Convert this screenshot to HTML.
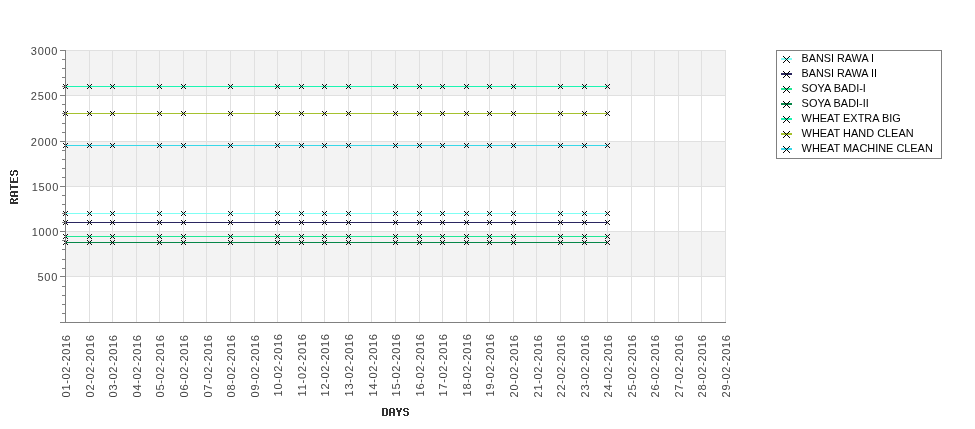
<!DOCTYPE html>
<html><head><meta charset="utf-8"><title>Rates chart</title>
<style>
html,body{margin:0;padding:0;background:#fff;}
body{width:975px;height:429px;overflow:hidden;}
svg{display:block;will-change:transform;}
text{font-family:"Liberation Sans",sans-serif;}
</style></head><body>
<svg width="975" height="429" viewBox="0 0 975 429">
<rect x="0" y="0" width="975" height="429" fill="#ffffff"/>
<g shape-rendering="crispEdges">
<rect x="66" y="50" width="660" height="45" fill="#f3f3f3"/>
<rect x="66" y="141" width="660" height="45" fill="#f3f3f3"/>
<rect x="66" y="231" width="660" height="45" fill="#f3f3f3"/>
<rect x="89" y="50" width="1" height="272" fill="#e0e0e0"/>
<rect x="112" y="50" width="1" height="272" fill="#e0e0e0"/>
<rect x="136" y="50" width="1" height="272" fill="#e0e0e0"/>
<rect x="159" y="50" width="1" height="272" fill="#e0e0e0"/>
<rect x="183" y="50" width="1" height="272" fill="#e0e0e0"/>
<rect x="206" y="50" width="1" height="272" fill="#e0e0e0"/>
<rect x="230" y="50" width="1" height="272" fill="#e0e0e0"/>
<rect x="254" y="50" width="1" height="272" fill="#e0e0e0"/>
<rect x="277" y="50" width="1" height="272" fill="#e0e0e0"/>
<rect x="301" y="50" width="1" height="272" fill="#e0e0e0"/>
<rect x="324" y="50" width="1" height="272" fill="#e0e0e0"/>
<rect x="348" y="50" width="1" height="272" fill="#e0e0e0"/>
<rect x="371" y="50" width="1" height="272" fill="#e0e0e0"/>
<rect x="395" y="50" width="1" height="272" fill="#e0e0e0"/>
<rect x="419" y="50" width="1" height="272" fill="#e0e0e0"/>
<rect x="442" y="50" width="1" height="272" fill="#e0e0e0"/>
<rect x="466" y="50" width="1" height="272" fill="#e0e0e0"/>
<rect x="489" y="50" width="1" height="272" fill="#e0e0e0"/>
<rect x="513" y="50" width="1" height="272" fill="#e0e0e0"/>
<rect x="536" y="50" width="1" height="272" fill="#e0e0e0"/>
<rect x="560" y="50" width="1" height="272" fill="#e0e0e0"/>
<rect x="584" y="50" width="1" height="272" fill="#e0e0e0"/>
<rect x="607" y="50" width="1" height="272" fill="#e0e0e0"/>
<rect x="631" y="50" width="1" height="272" fill="#e0e0e0"/>
<rect x="654" y="50" width="1" height="272" fill="#e0e0e0"/>
<rect x="678" y="50" width="1" height="272" fill="#e0e0e0"/>
<rect x="701" y="50" width="1" height="272" fill="#e0e0e0"/>
<rect x="725" y="50" width="1" height="272" fill="#e0e0e0"/>
<rect x="66" y="50" width="660" height="1" fill="#e0e0e0"/>
<rect x="66" y="95" width="660" height="1" fill="#e0e0e0"/>
<rect x="66" y="141" width="660" height="1" fill="#e0e0e0"/>
<rect x="66" y="186" width="660" height="1" fill="#e0e0e0"/>
<rect x="66" y="231" width="660" height="1" fill="#e0e0e0"/>
<rect x="66" y="276" width="660" height="1" fill="#e0e0e0"/>
</g>
<g shape-rendering="crispEdges">
<rect x="65" y="213" width="543" height="1" fill="#7ffff4"/>
<rect x="65" y="222" width="543" height="1" fill="#2a2660"/>
<rect x="65" y="236" width="543" height="1" fill="#22e896"/>
<rect x="65" y="242" width="543" height="1" fill="#068648"/>
<rect x="65" y="86" width="543" height="1" fill="#1cf5b2"/>
<rect x="65" y="113" width="543" height="1" fill="#a5c12e"/>
<rect x="65" y="145" width="543" height="1" fill="#38d8e8"/>
</g>
<g fill="#000" shape-rendering="crispEdges">
<path d="M63 211h1v1h-1zM63 215h1v1h-1zM64 212h1v1h-1zM64 214h1v1h-1zM65 213h1v1h-1zM66 212h1v1h-1zM66 214h1v1h-1zM67 211h1v1h-1zM67 215h1v1h-1z" fill-opacity="0.95"/>
<path d="M87 211h1v1h-1zM87 215h1v1h-1zM88 212h1v1h-1zM88 214h1v1h-1zM89 213h1v1h-1zM90 212h1v1h-1zM90 214h1v1h-1zM91 211h1v1h-1zM91 215h1v1h-1z" fill-opacity="0.95"/>
<path d="M110 211h1v1h-1zM110 215h1v1h-1zM111 212h1v1h-1zM111 214h1v1h-1zM112 213h1v1h-1zM113 212h1v1h-1zM113 214h1v1h-1zM114 211h1v1h-1zM114 215h1v1h-1z" fill-opacity="0.95"/>
<path d="M157 211h1v1h-1zM157 215h1v1h-1zM158 212h1v1h-1zM158 214h1v1h-1zM159 213h1v1h-1zM160 212h1v1h-1zM160 214h1v1h-1zM161 211h1v1h-1zM161 215h1v1h-1z" fill-opacity="0.95"/>
<path d="M181 211h1v1h-1zM181 215h1v1h-1zM182 212h1v1h-1zM182 214h1v1h-1zM183 213h1v1h-1zM184 212h1v1h-1zM184 214h1v1h-1zM185 211h1v1h-1zM185 215h1v1h-1z" fill-opacity="0.95"/>
<path d="M228 211h1v1h-1zM228 215h1v1h-1zM229 212h1v1h-1zM229 214h1v1h-1zM230 213h1v1h-1zM231 212h1v1h-1zM231 214h1v1h-1zM232 211h1v1h-1zM232 215h1v1h-1z" fill-opacity="0.95"/>
<path d="M275 211h1v1h-1zM275 215h1v1h-1zM276 212h1v1h-1zM276 214h1v1h-1zM277 213h1v1h-1zM278 212h1v1h-1zM278 214h1v1h-1zM279 211h1v1h-1zM279 215h1v1h-1z" fill-opacity="0.95"/>
<path d="M299 211h1v1h-1zM299 215h1v1h-1zM300 212h1v1h-1zM300 214h1v1h-1zM301 213h1v1h-1zM302 212h1v1h-1zM302 214h1v1h-1zM303 211h1v1h-1zM303 215h1v1h-1z" fill-opacity="0.95"/>
<path d="M322 211h1v1h-1zM322 215h1v1h-1zM323 212h1v1h-1zM323 214h1v1h-1zM324 213h1v1h-1zM325 212h1v1h-1zM325 214h1v1h-1zM326 211h1v1h-1zM326 215h1v1h-1z" fill-opacity="0.95"/>
<path d="M346 211h1v1h-1zM346 215h1v1h-1zM347 212h1v1h-1zM347 214h1v1h-1zM348 213h1v1h-1zM349 212h1v1h-1zM349 214h1v1h-1zM350 211h1v1h-1zM350 215h1v1h-1z" fill-opacity="0.95"/>
<path d="M393 211h1v1h-1zM393 215h1v1h-1zM394 212h1v1h-1zM394 214h1v1h-1zM395 213h1v1h-1zM396 212h1v1h-1zM396 214h1v1h-1zM397 211h1v1h-1zM397 215h1v1h-1z" fill-opacity="0.95"/>
<path d="M417 211h1v1h-1zM417 215h1v1h-1zM418 212h1v1h-1zM418 214h1v1h-1zM419 213h1v1h-1zM420 212h1v1h-1zM420 214h1v1h-1zM421 211h1v1h-1zM421 215h1v1h-1z" fill-opacity="0.95"/>
<path d="M440 211h1v1h-1zM440 215h1v1h-1zM441 212h1v1h-1zM441 214h1v1h-1zM442 213h1v1h-1zM443 212h1v1h-1zM443 214h1v1h-1zM444 211h1v1h-1zM444 215h1v1h-1z" fill-opacity="0.95"/>
<path d="M464 211h1v1h-1zM464 215h1v1h-1zM465 212h1v1h-1zM465 214h1v1h-1zM466 213h1v1h-1zM467 212h1v1h-1zM467 214h1v1h-1zM468 211h1v1h-1zM468 215h1v1h-1z" fill-opacity="0.95"/>
<path d="M487 211h1v1h-1zM487 215h1v1h-1zM488 212h1v1h-1zM488 214h1v1h-1zM489 213h1v1h-1zM490 212h1v1h-1zM490 214h1v1h-1zM491 211h1v1h-1zM491 215h1v1h-1z" fill-opacity="0.95"/>
<path d="M511 211h1v1h-1zM511 215h1v1h-1zM512 212h1v1h-1zM512 214h1v1h-1zM513 213h1v1h-1zM514 212h1v1h-1zM514 214h1v1h-1zM515 211h1v1h-1zM515 215h1v1h-1z" fill-opacity="0.95"/>
<path d="M558 211h1v1h-1zM558 215h1v1h-1zM559 212h1v1h-1zM559 214h1v1h-1zM560 213h1v1h-1zM561 212h1v1h-1zM561 214h1v1h-1zM562 211h1v1h-1zM562 215h1v1h-1z" fill-opacity="0.95"/>
<path d="M582 211h1v1h-1zM582 215h1v1h-1zM583 212h1v1h-1zM583 214h1v1h-1zM584 213h1v1h-1zM585 212h1v1h-1zM585 214h1v1h-1zM586 211h1v1h-1zM586 215h1v1h-1z" fill-opacity="0.95"/>
<path d="M605 211h1v1h-1zM605 215h1v1h-1zM606 212h1v1h-1zM606 214h1v1h-1zM607 213h1v1h-1zM608 212h1v1h-1zM608 214h1v1h-1zM609 211h1v1h-1zM609 215h1v1h-1z" fill-opacity="0.95"/>
<path d="M63 220h1v1h-1zM63 224h1v1h-1zM64 221h1v1h-1zM64 223h1v1h-1zM65 222h1v1h-1zM66 221h1v1h-1zM66 223h1v1h-1zM67 220h1v1h-1zM67 224h1v1h-1z" fill-opacity="0.95"/>
<path d="M87 220h1v1h-1zM87 224h1v1h-1zM88 221h1v1h-1zM88 223h1v1h-1zM89 222h1v1h-1zM90 221h1v1h-1zM90 223h1v1h-1zM91 220h1v1h-1zM91 224h1v1h-1z" fill-opacity="0.95"/>
<path d="M110 220h1v1h-1zM110 224h1v1h-1zM111 221h1v1h-1zM111 223h1v1h-1zM112 222h1v1h-1zM113 221h1v1h-1zM113 223h1v1h-1zM114 220h1v1h-1zM114 224h1v1h-1z" fill-opacity="0.95"/>
<path d="M157 220h1v1h-1zM157 224h1v1h-1zM158 221h1v1h-1zM158 223h1v1h-1zM159 222h1v1h-1zM160 221h1v1h-1zM160 223h1v1h-1zM161 220h1v1h-1zM161 224h1v1h-1z" fill-opacity="0.95"/>
<path d="M181 220h1v1h-1zM181 224h1v1h-1zM182 221h1v1h-1zM182 223h1v1h-1zM183 222h1v1h-1zM184 221h1v1h-1zM184 223h1v1h-1zM185 220h1v1h-1zM185 224h1v1h-1z" fill-opacity="0.95"/>
<path d="M228 220h1v1h-1zM228 224h1v1h-1zM229 221h1v1h-1zM229 223h1v1h-1zM230 222h1v1h-1zM231 221h1v1h-1zM231 223h1v1h-1zM232 220h1v1h-1zM232 224h1v1h-1z" fill-opacity="0.95"/>
<path d="M275 220h1v1h-1zM275 224h1v1h-1zM276 221h1v1h-1zM276 223h1v1h-1zM277 222h1v1h-1zM278 221h1v1h-1zM278 223h1v1h-1zM279 220h1v1h-1zM279 224h1v1h-1z" fill-opacity="0.95"/>
<path d="M299 220h1v1h-1zM299 224h1v1h-1zM300 221h1v1h-1zM300 223h1v1h-1zM301 222h1v1h-1zM302 221h1v1h-1zM302 223h1v1h-1zM303 220h1v1h-1zM303 224h1v1h-1z" fill-opacity="0.95"/>
<path d="M322 220h1v1h-1zM322 224h1v1h-1zM323 221h1v1h-1zM323 223h1v1h-1zM324 222h1v1h-1zM325 221h1v1h-1zM325 223h1v1h-1zM326 220h1v1h-1zM326 224h1v1h-1z" fill-opacity="0.95"/>
<path d="M346 220h1v1h-1zM346 224h1v1h-1zM347 221h1v1h-1zM347 223h1v1h-1zM348 222h1v1h-1zM349 221h1v1h-1zM349 223h1v1h-1zM350 220h1v1h-1zM350 224h1v1h-1z" fill-opacity="0.95"/>
<path d="M393 220h1v1h-1zM393 224h1v1h-1zM394 221h1v1h-1zM394 223h1v1h-1zM395 222h1v1h-1zM396 221h1v1h-1zM396 223h1v1h-1zM397 220h1v1h-1zM397 224h1v1h-1z" fill-opacity="0.95"/>
<path d="M417 220h1v1h-1zM417 224h1v1h-1zM418 221h1v1h-1zM418 223h1v1h-1zM419 222h1v1h-1zM420 221h1v1h-1zM420 223h1v1h-1zM421 220h1v1h-1zM421 224h1v1h-1z" fill-opacity="0.95"/>
<path d="M440 220h1v1h-1zM440 224h1v1h-1zM441 221h1v1h-1zM441 223h1v1h-1zM442 222h1v1h-1zM443 221h1v1h-1zM443 223h1v1h-1zM444 220h1v1h-1zM444 224h1v1h-1z" fill-opacity="0.95"/>
<path d="M464 220h1v1h-1zM464 224h1v1h-1zM465 221h1v1h-1zM465 223h1v1h-1zM466 222h1v1h-1zM467 221h1v1h-1zM467 223h1v1h-1zM468 220h1v1h-1zM468 224h1v1h-1z" fill-opacity="0.95"/>
<path d="M487 220h1v1h-1zM487 224h1v1h-1zM488 221h1v1h-1zM488 223h1v1h-1zM489 222h1v1h-1zM490 221h1v1h-1zM490 223h1v1h-1zM491 220h1v1h-1zM491 224h1v1h-1z" fill-opacity="0.95"/>
<path d="M511 220h1v1h-1zM511 224h1v1h-1zM512 221h1v1h-1zM512 223h1v1h-1zM513 222h1v1h-1zM514 221h1v1h-1zM514 223h1v1h-1zM515 220h1v1h-1zM515 224h1v1h-1z" fill-opacity="0.95"/>
<path d="M558 220h1v1h-1zM558 224h1v1h-1zM559 221h1v1h-1zM559 223h1v1h-1zM560 222h1v1h-1zM561 221h1v1h-1zM561 223h1v1h-1zM562 220h1v1h-1zM562 224h1v1h-1z" fill-opacity="0.95"/>
<path d="M582 220h1v1h-1zM582 224h1v1h-1zM583 221h1v1h-1zM583 223h1v1h-1zM584 222h1v1h-1zM585 221h1v1h-1zM585 223h1v1h-1zM586 220h1v1h-1zM586 224h1v1h-1z" fill-opacity="0.95"/>
<path d="M605 220h1v1h-1zM605 224h1v1h-1zM606 221h1v1h-1zM606 223h1v1h-1zM607 222h1v1h-1zM608 221h1v1h-1zM608 223h1v1h-1zM609 220h1v1h-1zM609 224h1v1h-1z" fill-opacity="0.95"/>
<path d="M63 234h1v1h-1zM63 238h1v1h-1zM64 235h1v1h-1zM64 237h1v1h-1zM65 236h1v1h-1zM66 235h1v1h-1zM66 237h1v1h-1zM67 234h1v1h-1zM67 238h1v1h-1z" fill-opacity="0.95"/>
<path d="M87 234h1v1h-1zM87 238h1v1h-1zM88 235h1v1h-1zM88 237h1v1h-1zM89 236h1v1h-1zM90 235h1v1h-1zM90 237h1v1h-1zM91 234h1v1h-1zM91 238h1v1h-1z" fill-opacity="0.95"/>
<path d="M110 234h1v1h-1zM110 238h1v1h-1zM111 235h1v1h-1zM111 237h1v1h-1zM112 236h1v1h-1zM113 235h1v1h-1zM113 237h1v1h-1zM114 234h1v1h-1zM114 238h1v1h-1z" fill-opacity="0.95"/>
<path d="M157 234h1v1h-1zM157 238h1v1h-1zM158 235h1v1h-1zM158 237h1v1h-1zM159 236h1v1h-1zM160 235h1v1h-1zM160 237h1v1h-1zM161 234h1v1h-1zM161 238h1v1h-1z" fill-opacity="0.95"/>
<path d="M181 234h1v1h-1zM181 238h1v1h-1zM182 235h1v1h-1zM182 237h1v1h-1zM183 236h1v1h-1zM184 235h1v1h-1zM184 237h1v1h-1zM185 234h1v1h-1zM185 238h1v1h-1z" fill-opacity="0.95"/>
<path d="M228 234h1v1h-1zM228 238h1v1h-1zM229 235h1v1h-1zM229 237h1v1h-1zM230 236h1v1h-1zM231 235h1v1h-1zM231 237h1v1h-1zM232 234h1v1h-1zM232 238h1v1h-1z" fill-opacity="0.95"/>
<path d="M275 234h1v1h-1zM275 238h1v1h-1zM276 235h1v1h-1zM276 237h1v1h-1zM277 236h1v1h-1zM278 235h1v1h-1zM278 237h1v1h-1zM279 234h1v1h-1zM279 238h1v1h-1z" fill-opacity="0.95"/>
<path d="M299 234h1v1h-1zM299 238h1v1h-1zM300 235h1v1h-1zM300 237h1v1h-1zM301 236h1v1h-1zM302 235h1v1h-1zM302 237h1v1h-1zM303 234h1v1h-1zM303 238h1v1h-1z" fill-opacity="0.95"/>
<path d="M322 234h1v1h-1zM322 238h1v1h-1zM323 235h1v1h-1zM323 237h1v1h-1zM324 236h1v1h-1zM325 235h1v1h-1zM325 237h1v1h-1zM326 234h1v1h-1zM326 238h1v1h-1z" fill-opacity="0.95"/>
<path d="M346 234h1v1h-1zM346 238h1v1h-1zM347 235h1v1h-1zM347 237h1v1h-1zM348 236h1v1h-1zM349 235h1v1h-1zM349 237h1v1h-1zM350 234h1v1h-1zM350 238h1v1h-1z" fill-opacity="0.95"/>
<path d="M393 234h1v1h-1zM393 238h1v1h-1zM394 235h1v1h-1zM394 237h1v1h-1zM395 236h1v1h-1zM396 235h1v1h-1zM396 237h1v1h-1zM397 234h1v1h-1zM397 238h1v1h-1z" fill-opacity="0.95"/>
<path d="M417 234h1v1h-1zM417 238h1v1h-1zM418 235h1v1h-1zM418 237h1v1h-1zM419 236h1v1h-1zM420 235h1v1h-1zM420 237h1v1h-1zM421 234h1v1h-1zM421 238h1v1h-1z" fill-opacity="0.95"/>
<path d="M440 234h1v1h-1zM440 238h1v1h-1zM441 235h1v1h-1zM441 237h1v1h-1zM442 236h1v1h-1zM443 235h1v1h-1zM443 237h1v1h-1zM444 234h1v1h-1zM444 238h1v1h-1z" fill-opacity="0.95"/>
<path d="M464 234h1v1h-1zM464 238h1v1h-1zM465 235h1v1h-1zM465 237h1v1h-1zM466 236h1v1h-1zM467 235h1v1h-1zM467 237h1v1h-1zM468 234h1v1h-1zM468 238h1v1h-1z" fill-opacity="0.95"/>
<path d="M487 234h1v1h-1zM487 238h1v1h-1zM488 235h1v1h-1zM488 237h1v1h-1zM489 236h1v1h-1zM490 235h1v1h-1zM490 237h1v1h-1zM491 234h1v1h-1zM491 238h1v1h-1z" fill-opacity="0.95"/>
<path d="M511 234h1v1h-1zM511 238h1v1h-1zM512 235h1v1h-1zM512 237h1v1h-1zM513 236h1v1h-1zM514 235h1v1h-1zM514 237h1v1h-1zM515 234h1v1h-1zM515 238h1v1h-1z" fill-opacity="0.95"/>
<path d="M558 234h1v1h-1zM558 238h1v1h-1zM559 235h1v1h-1zM559 237h1v1h-1zM560 236h1v1h-1zM561 235h1v1h-1zM561 237h1v1h-1zM562 234h1v1h-1zM562 238h1v1h-1z" fill-opacity="0.95"/>
<path d="M582 234h1v1h-1zM582 238h1v1h-1zM583 235h1v1h-1zM583 237h1v1h-1zM584 236h1v1h-1zM585 235h1v1h-1zM585 237h1v1h-1zM586 234h1v1h-1zM586 238h1v1h-1z" fill-opacity="0.95"/>
<path d="M605 234h1v1h-1zM605 238h1v1h-1zM606 235h1v1h-1zM606 237h1v1h-1zM607 236h1v1h-1zM608 235h1v1h-1zM608 237h1v1h-1zM609 234h1v1h-1zM609 238h1v1h-1z" fill-opacity="0.95"/>
<path d="M63 240h1v1h-1zM63 244h1v1h-1zM64 241h1v1h-1zM64 243h1v1h-1zM65 242h1v1h-1zM66 241h1v1h-1zM66 243h1v1h-1zM67 240h1v1h-1zM67 244h1v1h-1z" fill-opacity="0.95"/>
<path d="M87 240h1v1h-1zM87 244h1v1h-1zM88 241h1v1h-1zM88 243h1v1h-1zM89 242h1v1h-1zM90 241h1v1h-1zM90 243h1v1h-1zM91 240h1v1h-1zM91 244h1v1h-1z" fill-opacity="0.95"/>
<path d="M110 240h1v1h-1zM110 244h1v1h-1zM111 241h1v1h-1zM111 243h1v1h-1zM112 242h1v1h-1zM113 241h1v1h-1zM113 243h1v1h-1zM114 240h1v1h-1zM114 244h1v1h-1z" fill-opacity="0.95"/>
<path d="M157 240h1v1h-1zM157 244h1v1h-1zM158 241h1v1h-1zM158 243h1v1h-1zM159 242h1v1h-1zM160 241h1v1h-1zM160 243h1v1h-1zM161 240h1v1h-1zM161 244h1v1h-1z" fill-opacity="0.95"/>
<path d="M181 240h1v1h-1zM181 244h1v1h-1zM182 241h1v1h-1zM182 243h1v1h-1zM183 242h1v1h-1zM184 241h1v1h-1zM184 243h1v1h-1zM185 240h1v1h-1zM185 244h1v1h-1z" fill-opacity="0.95"/>
<path d="M228 240h1v1h-1zM228 244h1v1h-1zM229 241h1v1h-1zM229 243h1v1h-1zM230 242h1v1h-1zM231 241h1v1h-1zM231 243h1v1h-1zM232 240h1v1h-1zM232 244h1v1h-1z" fill-opacity="0.95"/>
<path d="M275 240h1v1h-1zM275 244h1v1h-1zM276 241h1v1h-1zM276 243h1v1h-1zM277 242h1v1h-1zM278 241h1v1h-1zM278 243h1v1h-1zM279 240h1v1h-1zM279 244h1v1h-1z" fill-opacity="0.95"/>
<path d="M299 240h1v1h-1zM299 244h1v1h-1zM300 241h1v1h-1zM300 243h1v1h-1zM301 242h1v1h-1zM302 241h1v1h-1zM302 243h1v1h-1zM303 240h1v1h-1zM303 244h1v1h-1z" fill-opacity="0.95"/>
<path d="M322 240h1v1h-1zM322 244h1v1h-1zM323 241h1v1h-1zM323 243h1v1h-1zM324 242h1v1h-1zM325 241h1v1h-1zM325 243h1v1h-1zM326 240h1v1h-1zM326 244h1v1h-1z" fill-opacity="0.95"/>
<path d="M346 240h1v1h-1zM346 244h1v1h-1zM347 241h1v1h-1zM347 243h1v1h-1zM348 242h1v1h-1zM349 241h1v1h-1zM349 243h1v1h-1zM350 240h1v1h-1zM350 244h1v1h-1z" fill-opacity="0.95"/>
<path d="M393 240h1v1h-1zM393 244h1v1h-1zM394 241h1v1h-1zM394 243h1v1h-1zM395 242h1v1h-1zM396 241h1v1h-1zM396 243h1v1h-1zM397 240h1v1h-1zM397 244h1v1h-1z" fill-opacity="0.95"/>
<path d="M417 240h1v1h-1zM417 244h1v1h-1zM418 241h1v1h-1zM418 243h1v1h-1zM419 242h1v1h-1zM420 241h1v1h-1zM420 243h1v1h-1zM421 240h1v1h-1zM421 244h1v1h-1z" fill-opacity="0.95"/>
<path d="M440 240h1v1h-1zM440 244h1v1h-1zM441 241h1v1h-1zM441 243h1v1h-1zM442 242h1v1h-1zM443 241h1v1h-1zM443 243h1v1h-1zM444 240h1v1h-1zM444 244h1v1h-1z" fill-opacity="0.95"/>
<path d="M464 240h1v1h-1zM464 244h1v1h-1zM465 241h1v1h-1zM465 243h1v1h-1zM466 242h1v1h-1zM467 241h1v1h-1zM467 243h1v1h-1zM468 240h1v1h-1zM468 244h1v1h-1z" fill-opacity="0.95"/>
<path d="M487 240h1v1h-1zM487 244h1v1h-1zM488 241h1v1h-1zM488 243h1v1h-1zM489 242h1v1h-1zM490 241h1v1h-1zM490 243h1v1h-1zM491 240h1v1h-1zM491 244h1v1h-1z" fill-opacity="0.95"/>
<path d="M511 240h1v1h-1zM511 244h1v1h-1zM512 241h1v1h-1zM512 243h1v1h-1zM513 242h1v1h-1zM514 241h1v1h-1zM514 243h1v1h-1zM515 240h1v1h-1zM515 244h1v1h-1z" fill-opacity="0.95"/>
<path d="M558 240h1v1h-1zM558 244h1v1h-1zM559 241h1v1h-1zM559 243h1v1h-1zM560 242h1v1h-1zM561 241h1v1h-1zM561 243h1v1h-1zM562 240h1v1h-1zM562 244h1v1h-1z" fill-opacity="0.95"/>
<path d="M582 240h1v1h-1zM582 244h1v1h-1zM583 241h1v1h-1zM583 243h1v1h-1zM584 242h1v1h-1zM585 241h1v1h-1zM585 243h1v1h-1zM586 240h1v1h-1zM586 244h1v1h-1z" fill-opacity="0.95"/>
<path d="M605 240h1v1h-1zM605 244h1v1h-1zM606 241h1v1h-1zM606 243h1v1h-1zM607 242h1v1h-1zM608 241h1v1h-1zM608 243h1v1h-1zM609 240h1v1h-1zM609 244h1v1h-1z" fill-opacity="0.95"/>
<path d="M63 84h1v1h-1zM63 88h1v1h-1zM64 85h1v1h-1zM64 87h1v1h-1zM65 86h1v1h-1zM66 85h1v1h-1zM66 87h1v1h-1zM67 84h1v1h-1zM67 88h1v1h-1z" fill-opacity="0.95"/>
<path d="M87 84h1v1h-1zM87 88h1v1h-1zM88 85h1v1h-1zM88 87h1v1h-1zM89 86h1v1h-1zM90 85h1v1h-1zM90 87h1v1h-1zM91 84h1v1h-1zM91 88h1v1h-1z" fill-opacity="0.95"/>
<path d="M110 84h1v1h-1zM110 88h1v1h-1zM111 85h1v1h-1zM111 87h1v1h-1zM112 86h1v1h-1zM113 85h1v1h-1zM113 87h1v1h-1zM114 84h1v1h-1zM114 88h1v1h-1z" fill-opacity="0.95"/>
<path d="M157 84h1v1h-1zM157 88h1v1h-1zM158 85h1v1h-1zM158 87h1v1h-1zM159 86h1v1h-1zM160 85h1v1h-1zM160 87h1v1h-1zM161 84h1v1h-1zM161 88h1v1h-1z" fill-opacity="0.95"/>
<path d="M181 84h1v1h-1zM181 88h1v1h-1zM182 85h1v1h-1zM182 87h1v1h-1zM183 86h1v1h-1zM184 85h1v1h-1zM184 87h1v1h-1zM185 84h1v1h-1zM185 88h1v1h-1z" fill-opacity="0.95"/>
<path d="M228 84h1v1h-1zM228 88h1v1h-1zM229 85h1v1h-1zM229 87h1v1h-1zM230 86h1v1h-1zM231 85h1v1h-1zM231 87h1v1h-1zM232 84h1v1h-1zM232 88h1v1h-1z" fill-opacity="0.95"/>
<path d="M275 84h1v1h-1zM275 88h1v1h-1zM276 85h1v1h-1zM276 87h1v1h-1zM277 86h1v1h-1zM278 85h1v1h-1zM278 87h1v1h-1zM279 84h1v1h-1zM279 88h1v1h-1z" fill-opacity="0.95"/>
<path d="M299 84h1v1h-1zM299 88h1v1h-1zM300 85h1v1h-1zM300 87h1v1h-1zM301 86h1v1h-1zM302 85h1v1h-1zM302 87h1v1h-1zM303 84h1v1h-1zM303 88h1v1h-1z" fill-opacity="0.95"/>
<path d="M322 84h1v1h-1zM322 88h1v1h-1zM323 85h1v1h-1zM323 87h1v1h-1zM324 86h1v1h-1zM325 85h1v1h-1zM325 87h1v1h-1zM326 84h1v1h-1zM326 88h1v1h-1z" fill-opacity="0.95"/>
<path d="M346 84h1v1h-1zM346 88h1v1h-1zM347 85h1v1h-1zM347 87h1v1h-1zM348 86h1v1h-1zM349 85h1v1h-1zM349 87h1v1h-1zM350 84h1v1h-1zM350 88h1v1h-1z" fill-opacity="0.95"/>
<path d="M393 84h1v1h-1zM393 88h1v1h-1zM394 85h1v1h-1zM394 87h1v1h-1zM395 86h1v1h-1zM396 85h1v1h-1zM396 87h1v1h-1zM397 84h1v1h-1zM397 88h1v1h-1z" fill-opacity="0.95"/>
<path d="M417 84h1v1h-1zM417 88h1v1h-1zM418 85h1v1h-1zM418 87h1v1h-1zM419 86h1v1h-1zM420 85h1v1h-1zM420 87h1v1h-1zM421 84h1v1h-1zM421 88h1v1h-1z" fill-opacity="0.95"/>
<path d="M440 84h1v1h-1zM440 88h1v1h-1zM441 85h1v1h-1zM441 87h1v1h-1zM442 86h1v1h-1zM443 85h1v1h-1zM443 87h1v1h-1zM444 84h1v1h-1zM444 88h1v1h-1z" fill-opacity="0.95"/>
<path d="M464 84h1v1h-1zM464 88h1v1h-1zM465 85h1v1h-1zM465 87h1v1h-1zM466 86h1v1h-1zM467 85h1v1h-1zM467 87h1v1h-1zM468 84h1v1h-1zM468 88h1v1h-1z" fill-opacity="0.95"/>
<path d="M487 84h1v1h-1zM487 88h1v1h-1zM488 85h1v1h-1zM488 87h1v1h-1zM489 86h1v1h-1zM490 85h1v1h-1zM490 87h1v1h-1zM491 84h1v1h-1zM491 88h1v1h-1z" fill-opacity="0.95"/>
<path d="M511 84h1v1h-1zM511 88h1v1h-1zM512 85h1v1h-1zM512 87h1v1h-1zM513 86h1v1h-1zM514 85h1v1h-1zM514 87h1v1h-1zM515 84h1v1h-1zM515 88h1v1h-1z" fill-opacity="0.95"/>
<path d="M558 84h1v1h-1zM558 88h1v1h-1zM559 85h1v1h-1zM559 87h1v1h-1zM560 86h1v1h-1zM561 85h1v1h-1zM561 87h1v1h-1zM562 84h1v1h-1zM562 88h1v1h-1z" fill-opacity="0.95"/>
<path d="M582 84h1v1h-1zM582 88h1v1h-1zM583 85h1v1h-1zM583 87h1v1h-1zM584 86h1v1h-1zM585 85h1v1h-1zM585 87h1v1h-1zM586 84h1v1h-1zM586 88h1v1h-1z" fill-opacity="0.95"/>
<path d="M605 84h1v1h-1zM605 88h1v1h-1zM606 85h1v1h-1zM606 87h1v1h-1zM607 86h1v1h-1zM608 85h1v1h-1zM608 87h1v1h-1zM609 84h1v1h-1zM609 88h1v1h-1z" fill-opacity="0.95"/>
<path d="M63 111h1v1h-1zM63 115h1v1h-1zM64 112h1v1h-1zM64 114h1v1h-1zM65 113h1v1h-1zM66 112h1v1h-1zM66 114h1v1h-1zM67 111h1v1h-1zM67 115h1v1h-1z" fill-opacity="0.95"/>
<path d="M87 111h1v1h-1zM87 115h1v1h-1zM88 112h1v1h-1zM88 114h1v1h-1zM89 113h1v1h-1zM90 112h1v1h-1zM90 114h1v1h-1zM91 111h1v1h-1zM91 115h1v1h-1z" fill-opacity="0.95"/>
<path d="M110 111h1v1h-1zM110 115h1v1h-1zM111 112h1v1h-1zM111 114h1v1h-1zM112 113h1v1h-1zM113 112h1v1h-1zM113 114h1v1h-1zM114 111h1v1h-1zM114 115h1v1h-1z" fill-opacity="0.95"/>
<path d="M157 111h1v1h-1zM157 115h1v1h-1zM158 112h1v1h-1zM158 114h1v1h-1zM159 113h1v1h-1zM160 112h1v1h-1zM160 114h1v1h-1zM161 111h1v1h-1zM161 115h1v1h-1z" fill-opacity="0.95"/>
<path d="M181 111h1v1h-1zM181 115h1v1h-1zM182 112h1v1h-1zM182 114h1v1h-1zM183 113h1v1h-1zM184 112h1v1h-1zM184 114h1v1h-1zM185 111h1v1h-1zM185 115h1v1h-1z" fill-opacity="0.95"/>
<path d="M228 111h1v1h-1zM228 115h1v1h-1zM229 112h1v1h-1zM229 114h1v1h-1zM230 113h1v1h-1zM231 112h1v1h-1zM231 114h1v1h-1zM232 111h1v1h-1zM232 115h1v1h-1z" fill-opacity="0.95"/>
<path d="M275 111h1v1h-1zM275 115h1v1h-1zM276 112h1v1h-1zM276 114h1v1h-1zM277 113h1v1h-1zM278 112h1v1h-1zM278 114h1v1h-1zM279 111h1v1h-1zM279 115h1v1h-1z" fill-opacity="0.95"/>
<path d="M299 111h1v1h-1zM299 115h1v1h-1zM300 112h1v1h-1zM300 114h1v1h-1zM301 113h1v1h-1zM302 112h1v1h-1zM302 114h1v1h-1zM303 111h1v1h-1zM303 115h1v1h-1z" fill-opacity="0.95"/>
<path d="M322 111h1v1h-1zM322 115h1v1h-1zM323 112h1v1h-1zM323 114h1v1h-1zM324 113h1v1h-1zM325 112h1v1h-1zM325 114h1v1h-1zM326 111h1v1h-1zM326 115h1v1h-1z" fill-opacity="0.95"/>
<path d="M346 111h1v1h-1zM346 115h1v1h-1zM347 112h1v1h-1zM347 114h1v1h-1zM348 113h1v1h-1zM349 112h1v1h-1zM349 114h1v1h-1zM350 111h1v1h-1zM350 115h1v1h-1z" fill-opacity="0.95"/>
<path d="M393 111h1v1h-1zM393 115h1v1h-1zM394 112h1v1h-1zM394 114h1v1h-1zM395 113h1v1h-1zM396 112h1v1h-1zM396 114h1v1h-1zM397 111h1v1h-1zM397 115h1v1h-1z" fill-opacity="0.95"/>
<path d="M417 111h1v1h-1zM417 115h1v1h-1zM418 112h1v1h-1zM418 114h1v1h-1zM419 113h1v1h-1zM420 112h1v1h-1zM420 114h1v1h-1zM421 111h1v1h-1zM421 115h1v1h-1z" fill-opacity="0.95"/>
<path d="M440 111h1v1h-1zM440 115h1v1h-1zM441 112h1v1h-1zM441 114h1v1h-1zM442 113h1v1h-1zM443 112h1v1h-1zM443 114h1v1h-1zM444 111h1v1h-1zM444 115h1v1h-1z" fill-opacity="0.95"/>
<path d="M464 111h1v1h-1zM464 115h1v1h-1zM465 112h1v1h-1zM465 114h1v1h-1zM466 113h1v1h-1zM467 112h1v1h-1zM467 114h1v1h-1zM468 111h1v1h-1zM468 115h1v1h-1z" fill-opacity="0.95"/>
<path d="M487 111h1v1h-1zM487 115h1v1h-1zM488 112h1v1h-1zM488 114h1v1h-1zM489 113h1v1h-1zM490 112h1v1h-1zM490 114h1v1h-1zM491 111h1v1h-1zM491 115h1v1h-1z" fill-opacity="0.95"/>
<path d="M511 111h1v1h-1zM511 115h1v1h-1zM512 112h1v1h-1zM512 114h1v1h-1zM513 113h1v1h-1zM514 112h1v1h-1zM514 114h1v1h-1zM515 111h1v1h-1zM515 115h1v1h-1z" fill-opacity="0.95"/>
<path d="M558 111h1v1h-1zM558 115h1v1h-1zM559 112h1v1h-1zM559 114h1v1h-1zM560 113h1v1h-1zM561 112h1v1h-1zM561 114h1v1h-1zM562 111h1v1h-1zM562 115h1v1h-1z" fill-opacity="0.95"/>
<path d="M582 111h1v1h-1zM582 115h1v1h-1zM583 112h1v1h-1zM583 114h1v1h-1zM584 113h1v1h-1zM585 112h1v1h-1zM585 114h1v1h-1zM586 111h1v1h-1zM586 115h1v1h-1z" fill-opacity="0.95"/>
<path d="M605 111h1v1h-1zM605 115h1v1h-1zM606 112h1v1h-1zM606 114h1v1h-1zM607 113h1v1h-1zM608 112h1v1h-1zM608 114h1v1h-1zM609 111h1v1h-1zM609 115h1v1h-1z" fill-opacity="0.95"/>
<path d="M63 143h1v1h-1zM63 147h1v1h-1zM64 144h1v1h-1zM64 146h1v1h-1zM65 145h1v1h-1zM66 144h1v1h-1zM66 146h1v1h-1zM67 143h1v1h-1zM67 147h1v1h-1z" fill-opacity="0.95"/>
<path d="M87 143h1v1h-1zM87 147h1v1h-1zM88 144h1v1h-1zM88 146h1v1h-1zM89 145h1v1h-1zM90 144h1v1h-1zM90 146h1v1h-1zM91 143h1v1h-1zM91 147h1v1h-1z" fill-opacity="0.95"/>
<path d="M110 143h1v1h-1zM110 147h1v1h-1zM111 144h1v1h-1zM111 146h1v1h-1zM112 145h1v1h-1zM113 144h1v1h-1zM113 146h1v1h-1zM114 143h1v1h-1zM114 147h1v1h-1z" fill-opacity="0.95"/>
<path d="M157 143h1v1h-1zM157 147h1v1h-1zM158 144h1v1h-1zM158 146h1v1h-1zM159 145h1v1h-1zM160 144h1v1h-1zM160 146h1v1h-1zM161 143h1v1h-1zM161 147h1v1h-1z" fill-opacity="0.95"/>
<path d="M181 143h1v1h-1zM181 147h1v1h-1zM182 144h1v1h-1zM182 146h1v1h-1zM183 145h1v1h-1zM184 144h1v1h-1zM184 146h1v1h-1zM185 143h1v1h-1zM185 147h1v1h-1z" fill-opacity="0.95"/>
<path d="M228 143h1v1h-1zM228 147h1v1h-1zM229 144h1v1h-1zM229 146h1v1h-1zM230 145h1v1h-1zM231 144h1v1h-1zM231 146h1v1h-1zM232 143h1v1h-1zM232 147h1v1h-1z" fill-opacity="0.95"/>
<path d="M275 143h1v1h-1zM275 147h1v1h-1zM276 144h1v1h-1zM276 146h1v1h-1zM277 145h1v1h-1zM278 144h1v1h-1zM278 146h1v1h-1zM279 143h1v1h-1zM279 147h1v1h-1z" fill-opacity="0.95"/>
<path d="M299 143h1v1h-1zM299 147h1v1h-1zM300 144h1v1h-1zM300 146h1v1h-1zM301 145h1v1h-1zM302 144h1v1h-1zM302 146h1v1h-1zM303 143h1v1h-1zM303 147h1v1h-1z" fill-opacity="0.95"/>
<path d="M322 143h1v1h-1zM322 147h1v1h-1zM323 144h1v1h-1zM323 146h1v1h-1zM324 145h1v1h-1zM325 144h1v1h-1zM325 146h1v1h-1zM326 143h1v1h-1zM326 147h1v1h-1z" fill-opacity="0.95"/>
<path d="M346 143h1v1h-1zM346 147h1v1h-1zM347 144h1v1h-1zM347 146h1v1h-1zM348 145h1v1h-1zM349 144h1v1h-1zM349 146h1v1h-1zM350 143h1v1h-1zM350 147h1v1h-1z" fill-opacity="0.95"/>
<path d="M393 143h1v1h-1zM393 147h1v1h-1zM394 144h1v1h-1zM394 146h1v1h-1zM395 145h1v1h-1zM396 144h1v1h-1zM396 146h1v1h-1zM397 143h1v1h-1zM397 147h1v1h-1z" fill-opacity="0.95"/>
<path d="M417 143h1v1h-1zM417 147h1v1h-1zM418 144h1v1h-1zM418 146h1v1h-1zM419 145h1v1h-1zM420 144h1v1h-1zM420 146h1v1h-1zM421 143h1v1h-1zM421 147h1v1h-1z" fill-opacity="0.95"/>
<path d="M440 143h1v1h-1zM440 147h1v1h-1zM441 144h1v1h-1zM441 146h1v1h-1zM442 145h1v1h-1zM443 144h1v1h-1zM443 146h1v1h-1zM444 143h1v1h-1zM444 147h1v1h-1z" fill-opacity="0.95"/>
<path d="M464 143h1v1h-1zM464 147h1v1h-1zM465 144h1v1h-1zM465 146h1v1h-1zM466 145h1v1h-1zM467 144h1v1h-1zM467 146h1v1h-1zM468 143h1v1h-1zM468 147h1v1h-1z" fill-opacity="0.95"/>
<path d="M487 143h1v1h-1zM487 147h1v1h-1zM488 144h1v1h-1zM488 146h1v1h-1zM489 145h1v1h-1zM490 144h1v1h-1zM490 146h1v1h-1zM491 143h1v1h-1zM491 147h1v1h-1z" fill-opacity="0.95"/>
<path d="M511 143h1v1h-1zM511 147h1v1h-1zM512 144h1v1h-1zM512 146h1v1h-1zM513 145h1v1h-1zM514 144h1v1h-1zM514 146h1v1h-1zM515 143h1v1h-1zM515 147h1v1h-1z" fill-opacity="0.95"/>
<path d="M558 143h1v1h-1zM558 147h1v1h-1zM559 144h1v1h-1zM559 146h1v1h-1zM560 145h1v1h-1zM561 144h1v1h-1zM561 146h1v1h-1zM562 143h1v1h-1zM562 147h1v1h-1z" fill-opacity="0.95"/>
<path d="M582 143h1v1h-1zM582 147h1v1h-1zM583 144h1v1h-1zM583 146h1v1h-1zM584 145h1v1h-1zM585 144h1v1h-1zM585 146h1v1h-1zM586 143h1v1h-1zM586 147h1v1h-1z" fill-opacity="0.95"/>
<path d="M605 143h1v1h-1zM605 147h1v1h-1zM606 144h1v1h-1zM606 146h1v1h-1zM607 145h1v1h-1zM608 144h1v1h-1zM608 146h1v1h-1zM609 143h1v1h-1zM609 147h1v1h-1z" fill-opacity="0.95"/>
</g>
<g shape-rendering="crispEdges">
<rect x="65" y="50" width="1" height="273" fill="#808080"/>
<rect x="65" y="322" width="661" height="1" fill="#808080"/>
<rect x="60" y="322" width="5" height="1" fill="#808080"/>
<rect x="62" y="313" width="3" height="1" fill="#808080"/>
<rect x="62" y="304" width="3" height="1" fill="#808080"/>
<rect x="62" y="295" width="3" height="1" fill="#808080"/>
<rect x="62" y="286" width="3" height="1" fill="#808080"/>
<rect x="60" y="276" width="5" height="1" fill="#808080"/>
<rect x="62" y="268" width="3" height="1" fill="#808080"/>
<rect x="62" y="259" width="3" height="1" fill="#808080"/>
<rect x="62" y="249" width="3" height="1" fill="#808080"/>
<rect x="62" y="240" width="3" height="1" fill="#808080"/>
<rect x="60" y="231" width="5" height="1" fill="#808080"/>
<rect x="62" y="222" width="3" height="1" fill="#808080"/>
<rect x="62" y="213" width="3" height="1" fill="#808080"/>
<rect x="62" y="204" width="3" height="1" fill="#808080"/>
<rect x="62" y="195" width="3" height="1" fill="#808080"/>
<rect x="60" y="186" width="5" height="1" fill="#808080"/>
<rect x="62" y="177" width="3" height="1" fill="#808080"/>
<rect x="62" y="168" width="3" height="1" fill="#808080"/>
<rect x="62" y="159" width="3" height="1" fill="#808080"/>
<rect x="62" y="150" width="3" height="1" fill="#808080"/>
<rect x="60" y="141" width="5" height="1" fill="#808080"/>
<rect x="62" y="132" width="3" height="1" fill="#808080"/>
<rect x="62" y="123" width="3" height="1" fill="#808080"/>
<rect x="62" y="113" width="3" height="1" fill="#808080"/>
<rect x="62" y="104" width="3" height="1" fill="#808080"/>
<rect x="60" y="95" width="5" height="1" fill="#808080"/>
<rect x="62" y="86" width="3" height="1" fill="#808080"/>
<rect x="62" y="77" width="3" height="1" fill="#808080"/>
<rect x="62" y="68" width="3" height="1" fill="#808080"/>
<rect x="62" y="59" width="3" height="1" fill="#808080"/>
<rect x="60" y="50" width="5" height="1" fill="#808080"/>
</g>
<text x="57.40" y="54.50" font-size="11" fill="#444444" text-anchor="end" textLength="26.60" lengthAdjust="spacing">3000</text>
<text x="57.40" y="99.50" font-size="11" fill="#444444" text-anchor="end" textLength="26.60" lengthAdjust="spacing">2500</text>
<text x="57.40" y="145.50" font-size="11" fill="#444444" text-anchor="end" textLength="26.60" lengthAdjust="spacing">2000</text>
<text x="58.30" y="190.50" font-size="11" fill="#444444" text-anchor="end" textLength="26.60" lengthAdjust="spacing">1500</text>
<text x="58.30" y="235.50" font-size="11" fill="#444444" text-anchor="end" textLength="26.60" lengthAdjust="spacing">1000</text>
<text x="57.40" y="280.50" font-size="11" fill="#444444" text-anchor="end" textLength="19.95" lengthAdjust="spacing">500</text>
<text transform="translate(70.15,335.00) rotate(-90)" x="0" y="0" font-size="11" fill="#444444" text-anchor="end" textLength="62.4" lengthAdjust="spacing">01-02-2016</text>
<text transform="translate(93.72,335.00) rotate(-90)" x="0" y="0" font-size="11" fill="#444444" text-anchor="end" textLength="62.4" lengthAdjust="spacing">02-02-2016</text>
<text transform="translate(117.29,335.00) rotate(-90)" x="0" y="0" font-size="11" fill="#444444" text-anchor="end" textLength="62.4" lengthAdjust="spacing">03-02-2016</text>
<text transform="translate(140.85,335.00) rotate(-90)" x="0" y="0" font-size="11" fill="#444444" text-anchor="end" textLength="62.4" lengthAdjust="spacing">04-02-2016</text>
<text transform="translate(164.42,335.00) rotate(-90)" x="0" y="0" font-size="11" fill="#444444" text-anchor="end" textLength="62.4" lengthAdjust="spacing">05-02-2016</text>
<text transform="translate(187.99,335.00) rotate(-90)" x="0" y="0" font-size="11" fill="#444444" text-anchor="end" textLength="62.4" lengthAdjust="spacing">06-02-2016</text>
<text transform="translate(211.56,335.00) rotate(-90)" x="0" y="0" font-size="11" fill="#444444" text-anchor="end" textLength="62.4" lengthAdjust="spacing">07-02-2016</text>
<text transform="translate(235.13,335.00) rotate(-90)" x="0" y="0" font-size="11" fill="#444444" text-anchor="end" textLength="62.4" lengthAdjust="spacing">08-02-2016</text>
<text transform="translate(258.69,335.00) rotate(-90)" x="0" y="0" font-size="11" fill="#444444" text-anchor="end" textLength="62.4" lengthAdjust="spacing">09-02-2016</text>
<text transform="translate(282.26,334.00) rotate(-90)" x="0" y="0" font-size="11" fill="#444444" text-anchor="end" textLength="62.4" lengthAdjust="spacing">10-02-2016</text>
<text transform="translate(305.83,334.00) rotate(-90)" x="0" y="0" font-size="11" fill="#444444" text-anchor="end" textLength="62.4" lengthAdjust="spacing">11-02-2016</text>
<text transform="translate(329.40,334.00) rotate(-90)" x="0" y="0" font-size="11" fill="#444444" text-anchor="end" textLength="62.4" lengthAdjust="spacing">12-02-2016</text>
<text transform="translate(352.96,334.00) rotate(-90)" x="0" y="0" font-size="11" fill="#444444" text-anchor="end" textLength="62.4" lengthAdjust="spacing">13-02-2016</text>
<text transform="translate(376.53,334.00) rotate(-90)" x="0" y="0" font-size="11" fill="#444444" text-anchor="end" textLength="62.4" lengthAdjust="spacing">14-02-2016</text>
<text transform="translate(400.10,334.00) rotate(-90)" x="0" y="0" font-size="11" fill="#444444" text-anchor="end" textLength="62.4" lengthAdjust="spacing">15-02-2016</text>
<text transform="translate(423.67,334.00) rotate(-90)" x="0" y="0" font-size="11" fill="#444444" text-anchor="end" textLength="62.4" lengthAdjust="spacing">16-02-2016</text>
<text transform="translate(447.24,334.00) rotate(-90)" x="0" y="0" font-size="11" fill="#444444" text-anchor="end" textLength="62.4" lengthAdjust="spacing">17-02-2016</text>
<text transform="translate(470.80,334.00) rotate(-90)" x="0" y="0" font-size="11" fill="#444444" text-anchor="end" textLength="62.4" lengthAdjust="spacing">18-02-2016</text>
<text transform="translate(494.37,334.00) rotate(-90)" x="0" y="0" font-size="11" fill="#444444" text-anchor="end" textLength="62.4" lengthAdjust="spacing">19-02-2016</text>
<text transform="translate(517.94,335.00) rotate(-90)" x="0" y="0" font-size="11" fill="#444444" text-anchor="end" textLength="62.4" lengthAdjust="spacing">20-02-2016</text>
<text transform="translate(541.51,335.00) rotate(-90)" x="0" y="0" font-size="11" fill="#444444" text-anchor="end" textLength="62.4" lengthAdjust="spacing">21-02-2016</text>
<text transform="translate(565.08,335.00) rotate(-90)" x="0" y="0" font-size="11" fill="#444444" text-anchor="end" textLength="62.4" lengthAdjust="spacing">22-02-2016</text>
<text transform="translate(588.64,335.00) rotate(-90)" x="0" y="0" font-size="11" fill="#444444" text-anchor="end" textLength="62.4" lengthAdjust="spacing">23-02-2016</text>
<text transform="translate(612.21,335.00) rotate(-90)" x="0" y="0" font-size="11" fill="#444444" text-anchor="end" textLength="62.4" lengthAdjust="spacing">24-02-2016</text>
<text transform="translate(635.78,335.00) rotate(-90)" x="0" y="0" font-size="11" fill="#444444" text-anchor="end" textLength="62.4" lengthAdjust="spacing">25-02-2016</text>
<text transform="translate(659.35,335.00) rotate(-90)" x="0" y="0" font-size="11" fill="#444444" text-anchor="end" textLength="62.4" lengthAdjust="spacing">26-02-2016</text>
<text transform="translate(682.91,335.00) rotate(-90)" x="0" y="0" font-size="11" fill="#444444" text-anchor="end" textLength="62.4" lengthAdjust="spacing">27-02-2016</text>
<text transform="translate(706.48,335.00) rotate(-90)" x="0" y="0" font-size="11" fill="#444444" text-anchor="end" textLength="62.4" lengthAdjust="spacing">28-02-2016</text>
<text transform="translate(730.05,335.00) rotate(-90)" x="0" y="0" font-size="11" fill="#444444" text-anchor="end" textLength="62.4" lengthAdjust="spacing">29-02-2016</text>
<path d="M382 408h1v1h-1zM383 408h1v1h-1zM384 408h1v1h-1zM385 408h1v1h-1zM386 408h1v1h-1zM382 409h1v1h-1zM383 409h1v1h-1zM386 409h1v1h-1zM387 409h1v1h-1zM382 410h1v1h-1zM383 410h1v1h-1zM386 410h1v1h-1zM387 410h1v1h-1zM382 411h1v1h-1zM383 411h1v1h-1zM386 411h1v1h-1zM387 411h1v1h-1zM382 412h1v1h-1zM383 412h1v1h-1zM386 412h1v1h-1zM387 412h1v1h-1zM382 413h1v1h-1zM383 413h1v1h-1zM386 413h1v1h-1zM387 413h1v1h-1zM382 414h1v1h-1zM383 414h1v1h-1zM386 414h1v1h-1zM387 414h1v1h-1zM382 415h1v1h-1zM383 415h1v1h-1zM384 415h1v1h-1zM385 415h1v1h-1zM386 415h1v1h-1zM390 408h1v1h-1zM391 408h1v1h-1zM392 408h1v1h-1zM393 408h1v1h-1zM389 409h1v1h-1zM390 409h1v1h-1zM393 409h1v1h-1zM394 409h1v1h-1zM389 410h1v1h-1zM390 410h1v1h-1zM393 410h1v1h-1zM394 410h1v1h-1zM389 411h1v1h-1zM390 411h1v1h-1zM393 411h1v1h-1zM394 411h1v1h-1zM389 412h1v1h-1zM390 412h1v1h-1zM391 412h1v1h-1zM392 412h1v1h-1zM393 412h1v1h-1zM394 412h1v1h-1zM389 413h1v1h-1zM390 413h1v1h-1zM393 413h1v1h-1zM394 413h1v1h-1zM389 414h1v1h-1zM390 414h1v1h-1zM393 414h1v1h-1zM394 414h1v1h-1zM389 415h1v1h-1zM390 415h1v1h-1zM393 415h1v1h-1zM394 415h1v1h-1zM396 408h1v1h-1zM397 408h1v1h-1zM400 408h1v1h-1zM401 408h1v1h-1zM396 409h1v1h-1zM397 409h1v1h-1zM400 409h1v1h-1zM401 409h1v1h-1zM397 410h1v1h-1zM398 410h1v1h-1zM399 410h1v1h-1zM400 410h1v1h-1zM397 411h1v1h-1zM398 411h1v1h-1zM399 411h1v1h-1zM400 411h1v1h-1zM398 412h1v1h-1zM399 412h1v1h-1zM398 413h1v1h-1zM399 413h1v1h-1zM398 414h1v1h-1zM399 414h1v1h-1zM398 415h1v1h-1zM399 415h1v1h-1zM404 408h1v1h-1zM405 408h1v1h-1zM406 408h1v1h-1zM407 408h1v1h-1zM403 409h1v1h-1zM404 409h1v1h-1zM407 409h1v1h-1zM408 409h1v1h-1zM403 410h1v1h-1zM404 410h1v1h-1zM404 411h1v1h-1zM405 411h1v1h-1zM406 411h1v1h-1zM407 411h1v1h-1zM407 412h1v1h-1zM408 412h1v1h-1zM407 413h1v1h-1zM408 413h1v1h-1zM403 414h1v1h-1zM404 414h1v1h-1zM407 414h1v1h-1zM408 414h1v1h-1zM404 415h1v1h-1zM405 415h1v1h-1zM406 415h1v1h-1zM407 415h1v1h-1z" fill="#333333" shape-rendering="crispEdges"/>
<path d="M10 203h1v1h-1zM10 202h1v1h-1zM10 201h1v1h-1zM10 200h1v1h-1zM10 199h1v1h-1zM11 203h1v1h-1zM11 202h1v1h-1zM11 199h1v1h-1zM11 198h1v1h-1zM12 203h1v1h-1zM12 202h1v1h-1zM12 199h1v1h-1zM12 198h1v1h-1zM13 203h1v1h-1zM13 202h1v1h-1zM13 201h1v1h-1zM13 200h1v1h-1zM13 199h1v1h-1zM14 203h1v1h-1zM14 202h1v1h-1zM14 200h1v1h-1zM15 203h1v1h-1zM15 202h1v1h-1zM15 200h1v1h-1zM15 199h1v1h-1zM16 203h1v1h-1zM16 202h1v1h-1zM16 199h1v1h-1zM16 198h1v1h-1zM17 203h1v1h-1zM17 202h1v1h-1zM17 199h1v1h-1zM17 198h1v1h-1zM10 195h1v1h-1zM10 194h1v1h-1zM10 193h1v1h-1zM10 192h1v1h-1zM11 196h1v1h-1zM11 195h1v1h-1zM11 192h1v1h-1zM11 191h1v1h-1zM12 196h1v1h-1zM12 195h1v1h-1zM12 192h1v1h-1zM12 191h1v1h-1zM13 196h1v1h-1zM13 195h1v1h-1zM13 192h1v1h-1zM13 191h1v1h-1zM14 196h1v1h-1zM14 195h1v1h-1zM14 194h1v1h-1zM14 193h1v1h-1zM14 192h1v1h-1zM14 191h1v1h-1zM15 196h1v1h-1zM15 195h1v1h-1zM15 192h1v1h-1zM15 191h1v1h-1zM16 196h1v1h-1zM16 195h1v1h-1zM16 192h1v1h-1zM16 191h1v1h-1zM17 196h1v1h-1zM17 195h1v1h-1zM17 192h1v1h-1zM17 191h1v1h-1zM10 189h1v1h-1zM10 188h1v1h-1zM10 187h1v1h-1zM10 186h1v1h-1zM10 185h1v1h-1zM10 184h1v1h-1zM11 187h1v1h-1zM11 186h1v1h-1zM12 187h1v1h-1zM12 186h1v1h-1zM13 187h1v1h-1zM13 186h1v1h-1zM14 187h1v1h-1zM14 186h1v1h-1zM15 187h1v1h-1zM15 186h1v1h-1zM16 187h1v1h-1zM16 186h1v1h-1zM17 187h1v1h-1zM17 186h1v1h-1zM10 182h1v1h-1zM10 181h1v1h-1zM10 180h1v1h-1zM10 179h1v1h-1zM10 178h1v1h-1zM10 177h1v1h-1zM11 182h1v1h-1zM11 181h1v1h-1zM12 182h1v1h-1zM12 181h1v1h-1zM13 182h1v1h-1zM13 181h1v1h-1zM13 180h1v1h-1zM13 179h1v1h-1zM13 178h1v1h-1zM14 182h1v1h-1zM14 181h1v1h-1zM15 182h1v1h-1zM15 181h1v1h-1zM16 182h1v1h-1zM16 181h1v1h-1zM17 182h1v1h-1zM17 181h1v1h-1zM17 180h1v1h-1zM17 179h1v1h-1zM17 178h1v1h-1zM17 177h1v1h-1zM10 174h1v1h-1zM10 173h1v1h-1zM10 172h1v1h-1zM10 171h1v1h-1zM11 175h1v1h-1zM11 174h1v1h-1zM11 171h1v1h-1zM11 170h1v1h-1zM12 175h1v1h-1zM12 174h1v1h-1zM13 174h1v1h-1zM13 173h1v1h-1zM13 172h1v1h-1zM13 171h1v1h-1zM14 171h1v1h-1zM14 170h1v1h-1zM15 171h1v1h-1zM15 170h1v1h-1zM16 175h1v1h-1zM16 174h1v1h-1zM16 171h1v1h-1zM16 170h1v1h-1zM17 174h1v1h-1zM17 173h1v1h-1zM17 172h1v1h-1zM17 171h1v1h-1z" fill="#333333" shape-rendering="crispEdges"/>
<g shape-rendering="crispEdges"><rect x="776.5" y="50.5" width="165" height="108" fill="#fff" stroke="#808080" stroke-width="1"/></g>
<rect x="781" y="58" width="11" height="2" fill="#7ffff4" shape-rendering="crispEdges"/>
<path d="M783 56h1v1h-1zM783 62h1v1h-1zM784 57h1v1h-1zM784 61h1v1h-1zM785 58h1v1h-1zM785 60h1v1h-1zM786 59h1v1h-1zM787 58h1v1h-1zM787 60h1v1h-1zM788 57h1v1h-1zM788 61h1v1h-1zM789 56h1v1h-1zM789 62h1v1h-1z" fill="#000" shape-rendering="crispEdges"/>
<text x="801.6" y="62.0" font-size="11" fill="#000" word-spacing="0" textLength="72.4" lengthAdjust="spacingAndGlyphs">BANSI RAWA I</text>
<rect x="781" y="73" width="11" height="2" fill="#2a2660" shape-rendering="crispEdges"/>
<path d="M783 71h1v1h-1zM783 77h1v1h-1zM784 72h1v1h-1zM784 76h1v1h-1zM785 73h1v1h-1zM785 75h1v1h-1zM786 74h1v1h-1zM787 73h1v1h-1zM787 75h1v1h-1zM788 72h1v1h-1zM788 76h1v1h-1zM789 71h1v1h-1zM789 77h1v1h-1z" fill="#000" shape-rendering="crispEdges"/>
<text x="801.6" y="77.0" font-size="11" fill="#000" word-spacing="0" textLength="75.3" lengthAdjust="spacingAndGlyphs">BANSI RAWA II</text>
<rect x="781" y="88" width="11" height="2" fill="#22e896" shape-rendering="crispEdges"/>
<path d="M783 86h1v1h-1zM783 92h1v1h-1zM784 87h1v1h-1zM784 91h1v1h-1zM785 88h1v1h-1zM785 90h1v1h-1zM786 89h1v1h-1zM787 88h1v1h-1zM787 90h1v1h-1zM788 87h1v1h-1zM788 91h1v1h-1zM789 86h1v1h-1zM789 92h1v1h-1z" fill="#000" shape-rendering="crispEdges"/>
<text x="801.6" y="92.0" font-size="11" fill="#000" word-spacing="0" textLength="64.3" lengthAdjust="spacingAndGlyphs">SOYA BADI-I</text>
<rect x="781" y="103" width="11" height="2" fill="#068648" shape-rendering="crispEdges"/>
<path d="M783 101h1v1h-1zM783 107h1v1h-1zM784 102h1v1h-1zM784 106h1v1h-1zM785 103h1v1h-1zM785 105h1v1h-1zM786 104h1v1h-1zM787 103h1v1h-1zM787 105h1v1h-1zM788 102h1v1h-1zM788 106h1v1h-1zM789 101h1v1h-1zM789 107h1v1h-1z" fill="#000" shape-rendering="crispEdges"/>
<text x="801.6" y="107.0" font-size="11" fill="#000" word-spacing="0" textLength="67.2" lengthAdjust="spacingAndGlyphs">SOYA BADI-II</text>
<rect x="781" y="118" width="11" height="2" fill="#1cf5b2" shape-rendering="crispEdges"/>
<path d="M783 116h1v1h-1zM783 122h1v1h-1zM784 117h1v1h-1zM784 121h1v1h-1zM785 118h1v1h-1zM785 120h1v1h-1zM786 119h1v1h-1zM787 118h1v1h-1zM787 120h1v1h-1zM788 117h1v1h-1zM788 121h1v1h-1zM789 116h1v1h-1zM789 122h1v1h-1z" fill="#000" shape-rendering="crispEdges"/>
<text x="801.6" y="122.0" font-size="11" fill="#000" word-spacing="0" textLength="99.2" lengthAdjust="spacingAndGlyphs">WHEAT EXTRA BIG</text>
<rect x="781" y="133" width="11" height="2" fill="#a5c12e" shape-rendering="crispEdges"/>
<path d="M783 131h1v1h-1zM783 137h1v1h-1zM784 132h1v1h-1zM784 136h1v1h-1zM785 133h1v1h-1zM785 135h1v1h-1zM786 134h1v1h-1zM787 133h1v1h-1zM787 135h1v1h-1zM788 132h1v1h-1zM788 136h1v1h-1zM789 131h1v1h-1zM789 137h1v1h-1z" fill="#000" shape-rendering="crispEdges"/>
<text x="801.6" y="137.0" font-size="11" fill="#000" word-spacing="0" textLength="112.0" lengthAdjust="spacingAndGlyphs">WHEAT HAND CLEAN</text>
<rect x="781" y="148" width="11" height="2" fill="#38d8e8" shape-rendering="crispEdges"/>
<path d="M783 146h1v1h-1zM783 152h1v1h-1zM784 147h1v1h-1zM784 151h1v1h-1zM785 148h1v1h-1zM785 150h1v1h-1zM786 149h1v1h-1zM787 148h1v1h-1zM787 150h1v1h-1zM788 147h1v1h-1zM788 151h1v1h-1zM789 146h1v1h-1zM789 152h1v1h-1z" fill="#000" shape-rendering="crispEdges"/>
<text x="801.6" y="152.0" font-size="11" fill="#000" word-spacing="0" textLength="131.2" lengthAdjust="spacingAndGlyphs">WHEAT MACHINE CLEAN</text>
</svg>
</body></html>
